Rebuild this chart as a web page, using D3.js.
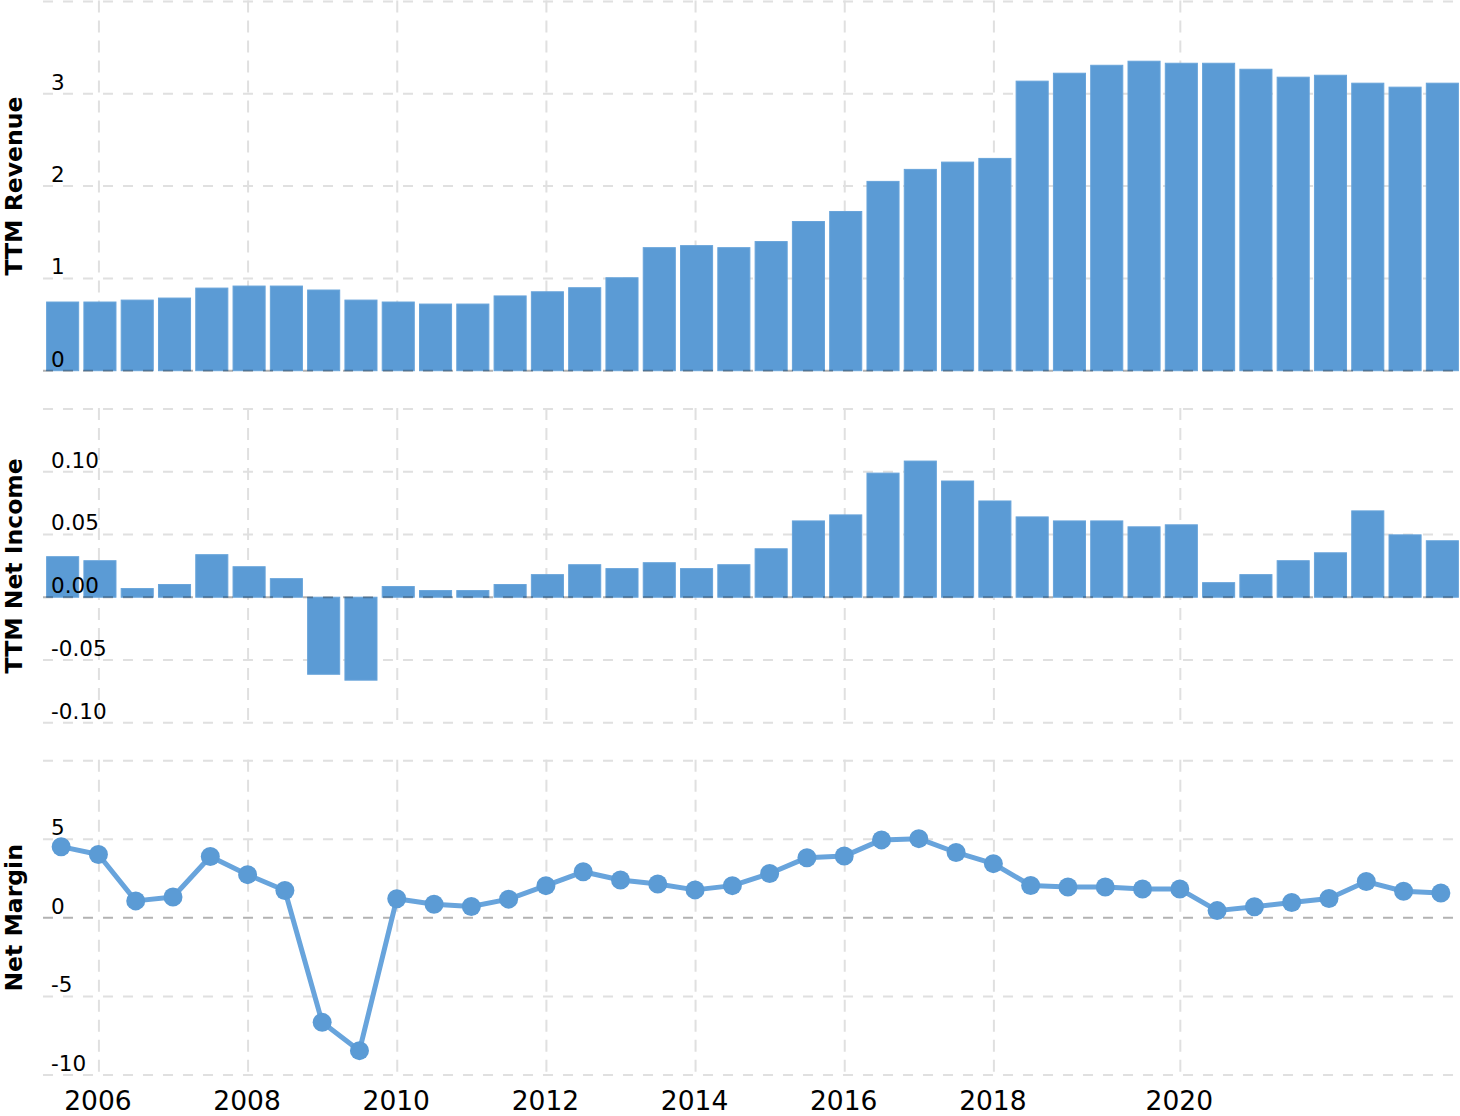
<!DOCTYPE html>
<html>
<head>
<meta charset="utf-8">
<script src="https://cdn.jsdelivr.net/npm/d3@7"></script>
<style>
  html, body { margin: 0; padding: 0; background: #fff; }
  svg { display: block; }
</style>
</head>
<body>
<svg id="chart" width="1460" height="1116"></svg>
<script>
// ---------------- data ----------------
const periods = [
  "2005-06","2005-12","2006-06","2006-12","2007-06","2007-12","2008-06","2008-12",
  "2009-06","2009-12","2010-06","2010-12","2011-06","2011-12","2012-06","2012-12",
  "2013-06","2013-12","2014-06","2014-12","2015-06","2015-12","2016-06","2016-12",
  "2017-06","2017-12","2018-03","2018-09","2019-03","2019-09","2019-12","2020-06",
  "2020-12","2021-06","2021-12","2022-06","2022-12","2023-06"
];
const revenue = [
  0.744, 0.744, 0.765, 0.787, 0.895, 0.917, 0.917, 0.874,
  0.765, 0.744, 0.722, 0.722, 0.810, 0.855, 0.899, 1.007,
  1.333, 1.355, 1.333, 1.399, 1.616, 1.725, 2.051, 2.181,
  2.260, 2.300, 3.137, 3.223, 3.309, 3.353, 3.331, 3.331,
  3.266, 3.180, 3.201, 3.115, 3.072, 3.115
];
const netIncome = [
  0.0323, 0.0291, 0.0069, 0.0101, 0.0339, 0.0243, 0.0148, -0.0614,
  -0.0661, 0.0085, 0.0053, 0.0053, 0.0101, 0.0180, 0.0259, 0.0228,
  0.0275, 0.0228, 0.0259, 0.0386, 0.0608, 0.0656, 0.0989, 0.1085,
  0.0926, 0.0767, 0.0640, 0.0608, 0.0608, 0.0561, 0.0577, 0.0116,
  0.0180, 0.0291, 0.0354, 0.0688, 0.0497, 0.0450
];
const netMargin = [
  4.53, 4.03, 1.08, 1.33, 3.90, 2.75, 1.74, -6.65,
  -8.45, 1.21, 0.87, 0.72, 1.19, 2.05, 2.93, 2.41,
  2.15, 1.78, 2.05, 2.82, 3.83, 3.93, 4.96, 5.04,
  4.16, 3.45, 2.06, 1.96, 1.96, 1.83, 1.83, 0.46,
  0.71, 0.98, 1.23, 2.31, 1.69, 1.58
];
const xTickPeriods = ["2005-12","2007-12","2009-12","2011-12","2013-12","2015-12","2017-12","2019-12"];
const xTickLabels  = ["2006","2008","2010","2012","2014","2016","2018","2020"];

const revGrid = [0, 1, 2, 3, 4];
const revLabels = [0, 1, 2, 3];
const niGrid = [-0.10, -0.05, 0, 0.05, 0.10, 0.15];
const niLabels = [-0.10, -0.05, 0, 0.05, 0.10];
const nmGrid = [-10, -5, 0, 5, 10];
const nmLabels = [-10, -5, 0, 5];

// ---------------- layout ----------------
const BLUE = "#5b9bd5";
const FONT = "DejaVu Sans, Verdana, sans-serif";
const svg = d3.select("#chart");
const gridX0 = 43, gridX1 = 1453;
const hyphen = f => (d => f(d).replace("\u2212", "-"));

const x = d3.scaleBand()
  .domain(periods)
  .range([44, 1461])
  .paddingInner(0.14)
  .paddingOuter(0.07);

const panels = [
  { title: "TTM Revenue", top: 1.5, bottom: 370.7, domain: [0, 4], grid: revGrid, labels: revLabels,
    fmt: hyphen(d3.format("d")), type: "bar", values: revenue },
  { title: "TTM Net Income", top: 409, bottom: 722.7, domain: [-0.10, 0.15], grid: niGrid, labels: niLabels,
    fmt: hyphen(d3.format(".2f")), type: "bar", values: netIncome },
  { title: "Net Margin", top: 760.7, bottom: 1075, domain: [-10, 10], grid: nmGrid, labels: nmLabels,
    fmt: hyphen(d3.format("d")), type: "line", values: netMargin }
];

const gGrid = svg.append("g");
const gMarks = svg.append("g");
const gZero = svg.append("g");
const gLine = svg.append("g");
const gText = svg.append("g");

panels.forEach(p => {
  const y = d3.scaleLinear().domain(p.domain).range([p.bottom, p.top]);

  // horizontal gridlines
  gGrid.selectAll(null)
    .data(p.grid.filter(v => v !== 0))
    .enter().append("line")
    .attr("x1", gridX0).attr("x2", gridX1)
    .attr("y1", d => y(d)).attr("y2", d => y(d))
    .attr("stroke", "#e0e0e0").attr("stroke-width", 2)
    .attr("stroke-dasharray", "10,10");

  // vertical gridlines
  gGrid.selectAll(null)
    .data(xTickPeriods)
    .enter().append("line")
    .attr("x1", d => x(d) + x.bandwidth() / 2 - 1).attr("x2", d => x(d) + x.bandwidth() / 2 - 1)
    .attr("y1", Math.max(0, p.top - 1)).attr("y2", p.bottom)
    .attr("stroke", "#e0e0e0").attr("stroke-width", 2)
    .attr("stroke-dasharray", "12,8");

  if (p.type === "bar") {
    gMarks.selectAll(null)
      .data(p.values)
      .enter().append("rect")
      .attr("x", (d, i) => x(periods[i]))
      .attr("width", x.bandwidth())
      .attr("y", d => y(Math.max(0, d)))
      .attr("height", d => Math.abs(y(d) - y(0)))
      .attr("fill", BLUE)
      .attr("stroke", "#68a4da")
      .attr("stroke-width", 1);
  } else {
    const line = d3.line()
      .x((d, i) => x(periods[i]) + x.bandwidth() / 2 - 1.5)
      .y(d => y(d));
    gLine.append("path")
      .datum(p.values)
      .attr("d", line)
      .attr("fill", "none")
      .attr("stroke", "#68a4dc")
      .attr("stroke-width", 5)
      .attr("stroke-linejoin", "round");
    gLine.selectAll(null)
      .data(p.values)
      .enter().append("circle")
      .attr("cx", (d, i) => x(periods[i]) + x.bandwidth() / 2 - 1.5)
      .attr("cy", d => y(d))
      .attr("r", 9.5)
      .attr("fill", BLUE);
  }

  // zero line
  gZero.append("line")
    .attr("x1", gridX0).attr("x2", gridX1)
    .attr("y1", y(0)).attr("y2", y(0))
    .attr("stroke", "#000").attr("stroke-opacity", 0.3)
    .attr("stroke-width", 2)
    .attr("stroke-dasharray", "10,10");

  // tick labels
  gText.selectAll(null)
    .data(p.labels)
    .enter().append("text")
    .attr("x", 51)
    .attr("y", d => y(d) - 4)
    .attr("font-family", FONT)
    .attr("font-size", 21.5)
    .attr("fill", "#000")
    .text(d => p.fmt(d));

  // axis title
  gText.append("text")
    .attr("transform", `translate(21.5,${(p.top + p.bottom) / 2}) rotate(-90)`)
    .attr("text-anchor", "middle")
    .attr("font-family", FONT)
    .attr("font-weight", "bold")
    .attr("font-size", 23.5)
    .attr("fill", "#000")
    .text(p.title);
});

// x-axis year labels
gText.selectAll(null)
  .data(xTickPeriods)
  .enter().append("text")
  .attr("x", d => x(d) + x.bandwidth() / 2 - 2)
  .attr("y", 1109.5)
  .attr("text-anchor", "middle")
  .attr("font-family", FONT)
  .attr("font-size", 26.5)
  .attr("fill", "#000")
  .text((d, i) => xTickLabels[i]);
</script>
</body>
</html>
